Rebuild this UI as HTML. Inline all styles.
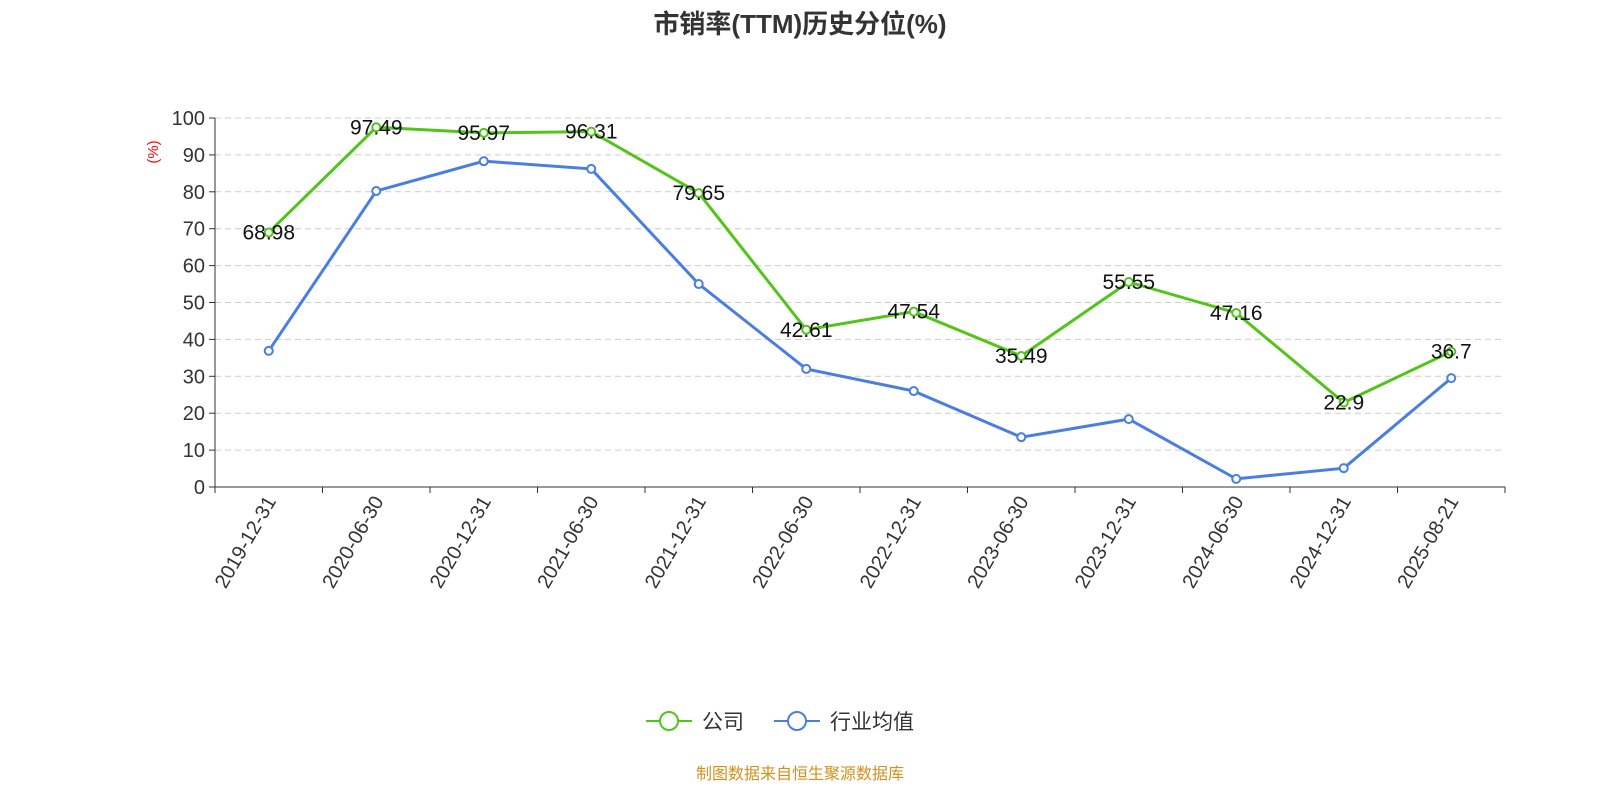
<!DOCTYPE html>
<html><head><meta charset="utf-8"><style>
body{margin:0;background:#fff;width:1600px;height:800px;overflow:hidden;font-family:"Liberation Sans","Noto Sans CJK SC",sans-serif}
</style></head><body>
<svg id="chart" width="1600" height="800" xmlns="http://www.w3.org/2000/svg" font-family="Liberation Sans, Noto Sans CJK SC, sans-serif">
<text x="800" y="33" text-anchor="middle" font-size="26" font-weight="bold" fill="#333">市销率(TTM)历史分位(%)</text>
<text x="0" y="0" transform="translate(158,152) rotate(-90)" text-anchor="middle" font-size="15" fill="#ff0000">(%)</text>
<g id="grid"></g><g id="axes"></g><g id="series"></g>
<g>
<g><line x1="646" y1="721" x2="692" y2="721" stroke="#52c41a" stroke-width="2"/><circle cx="669" cy="721" r="9" fill="#fff" stroke="#52c41a" stroke-width="2"/><text x="702" y="729" font-size="21" fill="#333">公司</text></g>
<g><line x1="774" y1="721" x2="820" y2="721" stroke="#4a7ee0" stroke-width="2"/><circle cx="797" cy="721" r="9" fill="#fff" stroke="#4a7ee0" stroke-width="2"/><text x="830" y="729" font-size="21" fill="#333">行业均值</text></g>
</g>
<text x="800" y="779" text-anchor="middle" font-size="16" fill="#d4901c">制图数据来自恒生聚源数据库</text>
</svg>
<script>
const categories=["2019-12-31","2020-06-30","2020-12-31","2021-06-30","2021-12-31","2022-06-30","2022-12-31","2023-06-30","2023-12-31","2024-06-30","2024-12-31","2025-08-21"];
const companyValues=[68.98,97.49,95.97,96.31,79.65,42.61,47.54,35.49,55.55,47.16,22.9,36.7];
const industryValues=[36.9,80.2,88.3,86.2,55.0,32.0,26.0,13.5,18.4,2.2,5.1,29.5];
const yTicks=[0,10,20,30,40,50,60,70,80,90,100];
const NS="http://www.w3.org/2000/svg";
const x0=215,x1=1505,y0=487,y1=118;
const bw=(x1-x0)/categories.length;
const xs=i=>x0+bw*(i+0.5);
const ys=v=>y0-(v/100)*(y0-y1);
function mk(tag,attrs,parent,txt){const e=document.createElementNS(NS,tag);for(const k in attrs)e.setAttribute(k,attrs[k]);if(txt!==undefined)e.textContent=txt;parent.appendChild(e);return e;}
const grid=document.getElementById('grid'),axes=document.getElementById('axes'),series=document.getElementById('series');
yTicks.forEach(t=>{
 const y=ys(t);
 if(t>0){const g=mk('line',{x1:x0,x2:x1,y1:y,y2:y,stroke:'#ccc','stroke-dasharray':'6,4'},grid);
 
 }
 mk('line',{x1:x0-6,x2:x0,y1:y,y2:y,stroke:'#333'},axes);
 const l=mk('text',{x:x0-10,y:y+7,'text-anchor':'end','font-size':20,fill:'#333'},axes,t);
 
 
});
mk('line',{x1:x0,x2:x0,y1:y1,y2:y0,stroke:'#333'},axes);
mk('line',{x1:x0,x2:x1,y1:y0,y2:y0,stroke:'#333'},axes);
for(let i=0;i<=categories.length;i++)mk('line',{x1:x0+bw*i,x2:x0+bw*i,y1:y0,y2:y0+6,stroke:'#333'},axes);
categories.forEach((c,i)=>{
 const x=xs(i);
 const t=mk('text',{x:0,y:0,transform:`translate(${x+8},${y0+14}) rotate(-60)`,'text-anchor':'end','font-size':20,fill:'#333'},axes,c);
 
 
});
function draw(vals,color,name,labels){
 const p=mk('polyline',{points:vals.map((v,i)=>xs(i)+','+ys(v)).join(' '),fill:'none',stroke:color,'stroke-width':3},series);
 
 
 vals.forEach((v,i)=>{
  const c=mk('circle',{cx:xs(i),cy:ys(v),r:4,fill:'#fff',stroke:color,'stroke-width':2},series);
  
  
  if(labels){
   const t=mk('text',{x:xs(i),y:ys(v)+7,'text-anchor':'middle','font-size':21,fill:'#111'},series,v);
   
   
  }
 });
}
draw(industryValues,'#4a7ee0','industry',false);
draw(companyValues,'#52c41a','company',true);
</script>
</body></html>
